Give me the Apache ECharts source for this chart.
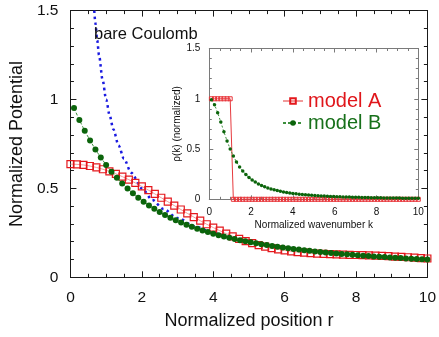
<!DOCTYPE html>
<html>
<head>
<meta charset="utf-8">
<script src="https://cdn.jsdelivr.net/npm/echarts@6/dist/echarts.min.js"></script>
<style>html,body{margin:0;padding:0;background:#fff}#c{width:439px;height:337px}</style>
</head>
<body>
<div id="c"></div>
<script>
// ---- main panel data ----
const mainXTicks = [0, 2, 4, 6, 8, 10];
const mainYTicks = [0, 0.5, 1, 1.5];
const insetXTicks = [0, 2, 4, 6, 8, 10];
const insetYTicks = [0, 0.5, 1, 1.5];

const rA = [0,0.182,0.364,0.545,0.727,0.909,1.091,1.273,1.455,1.636,1.818,2,2.182,2.364,2.545,2.727,2.909,3.091,3.273,3.455,3.636,3.818,4,4.182,4.364,4.545,4.727,4.909,5.091,5.273,5.455,5.636,5.818,6,6.182,6.364,6.545,6.727,6.909,7.091,7.273,7.455,7.636,7.818,8,8.182,8.364,8.545,8.727,8.909,9.091,9.273,9.455,9.636,9.818,10];
const potA = [0.6366,0.6353,0.6318,0.6259,0.6179,0.6078,0.5957,0.5818,0.5662,0.5490,0.5306,0.5110,0.4905,0.4692,0.4474,0.4253,0.4033,0.3814,0.3599,0.3388,0.3183,0.2985,0.2798,0.2622,0.2457,0.2304,0.2163,0.2034,0.1918,0.1814,0.1721,0.1640,0.1570,0.1512,0.1461,0.1419,0.1385,0.1356,0.1333,0.1314,0.1299,0.1285,0.1274,0.1263,0.1253,0.1242,0.1230,0.1217,0.1202,0.1186,0.1168,0.1149,0.1127,0.1105,0.1081,0.1056];

const rB = [0.1,0.25,0.4,0.55,0.7,0.85,1,1.15,1.3,1.45,1.6,1.75,1.9,2.05,2.2,2.35,2.5,2.65,2.8,2.95,3.1,3.25,3.4,3.55,3.7,3.85,4,4.15,4.3,4.45,4.6,4.75,4.9,5.05,5.2,5.35,5.5,5.65,5.8,5.95,6.1,6.25,6.4,6.55,6.7,6.85,7,7.15,7.3,7.45,7.6,7.75,7.9,8.05,8.2,8.35,8.5,8.65,8.8,8.95,9.1,9.25,9.4,9.55,9.7,9.85,10];
const potB = [0.9516,0.8848,0.8242,0.7692,0.7192,0.6736,0.6321,0.5942,0.5596,0.5279,0.4988,0.4721,0.4476,0.4250,0.4042,0.3850,0.3672,0.3507,0.3354,0.3212,0.3081,0.2958,0.2843,0.2736,0.2636,0.2542,0.2454,0.2372,0.2294,0.2221,0.2152,0.2087,0.2026,0.1968,0.1913,0.1860,0.1811,0.1764,0.1719,0.1676,0.1636,0.1597,0.1560,0.1525,0.1491,0.1458,0.1427,0.1398,0.1369,0.1342,0.1315,0.1290,0.1265,0.1242,0.1219,0.1197,0.1176,0.1156,0.1136,0.1117,0.1099,0.1081,0.1064,0.1047,0.1031,0.1015,0.1000];

const rCoul = [0.6667,0.7,0.75,0.8,0.9,1,1.1,1.2,1.35,1.5,1.7,2,2.3,2.6,3,3.5,4,4.5,5,6,7,8,9,10];
const potCoul = [1.5,1.4286,1.3333,1.25,1.1111,1,0.9091,0.8333,0.7407,0.6667,0.5882,0.5,0.4348,0.3846,0.3333,0.2857,0.25,0.2222,0.2,0.1667,0.1429,0.125,0.1111,0.1];

// ---- inset data ----
const kA = [0.1,0.25,0.4,0.55,0.7,0.85,1,1.15,1.3,1.45,1.6,1.75,1.9,2.05,2.2,2.35,2.5,2.65,2.8,2.95,3.1,3.25,3.4,3.55,3.7,3.85,4,4.15,4.3,4.45,4.6,4.75,4.9,5.05,5.2,5.35,5.5,5.65,5.8,5.95,6.1,6.25,6.4,6.55,6.7,6.85,7,7.15,7.3,7.45,7.6,7.75,7.9,8.05,8.2,8.35,8.5,8.65,8.8,8.95,9.1,9.25,9.4,9.55,9.7,9.85,10];
const rhoA = [1,1,1,1,1,1,1,0,0,0,0,0,0,0,0,0,0,0,0,0,0,0,0,0,0,0,0,0,0,0,0,0,0,0,0,0,0,0,0,0,0,0,0,0,0,0,0,0,0,0,0,0,0,0,0,0,0,0,0,0,0,0,0,0,0,0,0];
const kB = [0.1,0.25,0.4,0.55,0.7,0.85,1,1.15,1.3,1.45,1.6,1.75,1.9,2.05,2.2,2.35,2.5,2.65,2.8,2.95,3.1,3.25,3.4,3.55,3.7,3.85,4,4.15,4.3,4.45,4.6,4.75,4.9,5.05,5.2,5.35,5.5,5.65,5.8,5.95,6.1,6.25,6.4,6.55,6.7,6.85,7,7.15,7.3,7.45,7.6,7.75,7.9,8.05,8.2,8.35,8.5,8.65,8.8,8.95,9.1,9.25,9.4,9.55,9.7,9.85,10];
const rhoB = [0.9901,0.9412,0.8621,0.7678,0.6711,0.5806,0.5000,0.4306,0.3717,0.3223,0.2809,0.2462,0.2169,0.1922,0.1712,0.1533,0.1379,0.1246,0.1131,0.1031,0.0943,0.0865,0.0796,0.0735,0.0681,0.0632,0.0588,0.0549,0.0513,0.0481,0.0451,0.0424,0.0400,0.0377,0.0357,0.0338,0.0320,0.0304,0.0289,0.0275,0.0262,0.0250,0.0238,0.0228,0.0218,0.0209,0.0200,0.0192,0.0184,0.0177,0.0170,0.0164,0.0158,0.0152,0.0147,0.0141,0.0137,0.0132,0.0127,0.0123,0.0119,0.0116,0.0112,0.0108,0.0105,0.0102,0.0099];

const FONT = '"Liberation Sans", Arial, Helvetica, sans-serif';
const pair = (xs, ys) => xs.map((x, i) => [x, ys[i]]);

function axis(ticks, opts) {
  const step = ticks[1] - ticks[0];
  return Object.assign({
    type: 'value',
    min: ticks[0],
    max: ticks[ticks.length - 1],
    interval: step,
    splitLine: { show: false },
    axisLine: { show: true, onZero: false, lineStyle: { color: opts.lineColor, width: 1 } },
    axisTick: { show: true, inside: true, length: opts.tickLen, lineStyle: { color: opts.lineColor, width: 1 } },
    minorTick: { show: true, splitNumber: opts.minor, length: opts.minorLen, lineStyle: { color: opts.lineColor, width: 1 } },
    axisLabel: {
      show: opts.labels, fontFamily: FONT, fontSize: opts.fontSize, color: '#111', margin: opts.margin
    }
  }, opts.extra || {});
}

const mainLine = '#1a1a1a';
const insetLine = '#7a7a7a';

const option = {
  animation: false,
  backgroundColor: '#fff',
  title: {
    text: 'bare Coulomb', left: 94, top: 26, padding: 0,
    textStyle: { fontFamily: FONT, fontSize: 16.5, fontWeight: 'normal', color: '#111' }
  },
  legend: {
    orient: 'vertical', left: 282, top: 91, padding: 0,
    itemWidth: 20, itemHeight: 7, itemGap: 2,
    textStyle: { fontFamily: FONT, fontSize: 20 },
    data: [
      { name: 'model A', textStyle: { color: '#e0161b' } },
      { name: 'model B', textStyle: { color: '#17701a' } }
    ]
  },
  grid: [
    { left: 65, right: 10.5, top: 10.6, bottom: 59.7 },
    { left: 209.3, width: 209, top: 48.5, bottom: 137.7 }
  ],
  xAxis: [
    axis(mainXTicks, { lineColor: mainLine, tickLen: 6, minor: 4, minorLen: 3.5, labels: true, fontSize: 15.5, margin: 12,
      extra: { gridIndex: 0, position: 'bottom', name: 'Normalized position r', nameLocation: 'middle', nameGap: 35,
        nameTextStyle: { fontFamily: FONT, fontSize: 18, color: '#111' } } }),
    axis(mainXTicks, { lineColor: mainLine, tickLen: 6, minor: 4, minorLen: 3.5, labels: false, fontSize: 15.5, margin: 12,
      extra: { gridIndex: 0, position: 'top' } }),
    axis(insetXTicks, { lineColor: insetLine, tickLen: 4, minor: 4, minorLen: 2.5, labels: true, fontSize: 10, margin: 8,
      extra: { gridIndex: 1, position: 'bottom', name: 'Normalized wavenumber k', nameLocation: 'middle', nameGap: 21,
        nameTextStyle: { fontFamily: FONT, fontSize: 10, color: '#111' } } }),
    axis(insetXTicks, { lineColor: insetLine, tickLen: 4, minor: 4, minorLen: 2.5, labels: false, fontSize: 10, margin: 8,
      extra: { gridIndex: 1, position: 'top' } })
  ],
  yAxis: [
    axis(mainYTicks, { lineColor: mainLine, tickLen: 6, minor: 5, minorLen: 3.5, labels: true, fontSize: 15.5, margin: 12,
      extra: { gridIndex: 0, position: 'left', name: 'Normalized Potential', nameLocation: 'middle', nameGap: 40,
        nameTextStyle: { fontFamily: FONT, fontSize: 18, color: '#111' } } }),
    axis(mainYTicks, { lineColor: mainLine, tickLen: 6, minor: 5, minorLen: 3.5, labels: false, fontSize: 15.5, margin: 12,
      extra: { gridIndex: 0, position: 'right' } }),
    axis(insetYTicks, { lineColor: insetLine, tickLen: 4, minor: 5, minorLen: 2.5, labels: true, fontSize: 10, margin: 9,
      extra: { gridIndex: 1, position: 'left', name: 'ρ(k) (normalized)', nameLocation: 'middle', nameGap: 22,
        nameTextStyle: { fontFamily: FONT, fontSize: 10, color: '#111' } } }),
    axis(insetYTicks, { lineColor: insetLine, tickLen: 4, minor: 5, minorLen: 2.5, labels: false, fontSize: 10, margin: 9,
      extra: { gridIndex: 1, position: 'right' } })
  ],
  series: [
    {
      name: 'bare Coulomb', type: 'line', xAxisIndex: 0, yAxisIndex: 0,
      data: pair(rCoul, potCoul), showSymbol: false, symbol: 'none',
      smooth: 0.3, smoothMonotone: 'x',
      lineStyle: { color: '#1a1ae0', width: 2.5, type: [2.5, 3.5] }, z: 1
    },
    {
      name: 'model A', type: 'line', xAxisIndex: 0, yAxisIndex: 0,
      data: pair(rA, potA), symbol: 'rect', symbolSize: 7,
      itemStyle: { color: 'rgba(255,255,255,0)', borderColor: '#e4181d', borderWidth: 1.2 },
      lineStyle: { color: '#f19a9a', width: 1 }, z: 2
    },
    {
      name: 'model B', type: 'line', xAxisIndex: 0, yAxisIndex: 0,
      data: pair(rB, potB), symbol: 'circle', symbolSize: 6,
      itemStyle: { color: '#0b640b' },
      lineStyle: { color: '#3d8f3d', width: 1, type: [3, 2] }, z: 3
    },
    {
      name: 'model A', type: 'line', xAxisIndex: 2, yAxisIndex: 2,
      data: pair(kA, rhoA), symbol: 'rect', symbolSize: 4,
      itemStyle: { color: 'rgba(255,255,255,0)', borderColor: '#e8353a', borderWidth: 1 },
      lineStyle: { color: '#e63a3e', width: 1 }, z: 2
    },
    {
      name: 'model B', type: 'line', xAxisIndex: 2, yAxisIndex: 2,
      data: pair(kB, rhoB), symbol: 'circle', symbolSize: 3.5,
      itemStyle: { color: '#0b640b' },
      lineStyle: { color: '#3d8f3d', width: 1, type: [2, 2] }, z: 3
    }
  ]
};

const chart = echarts.init(document.getElementById('c'), null, { renderer: 'canvas' });
chart.setOption(option);
</script>
</body>
</html>
